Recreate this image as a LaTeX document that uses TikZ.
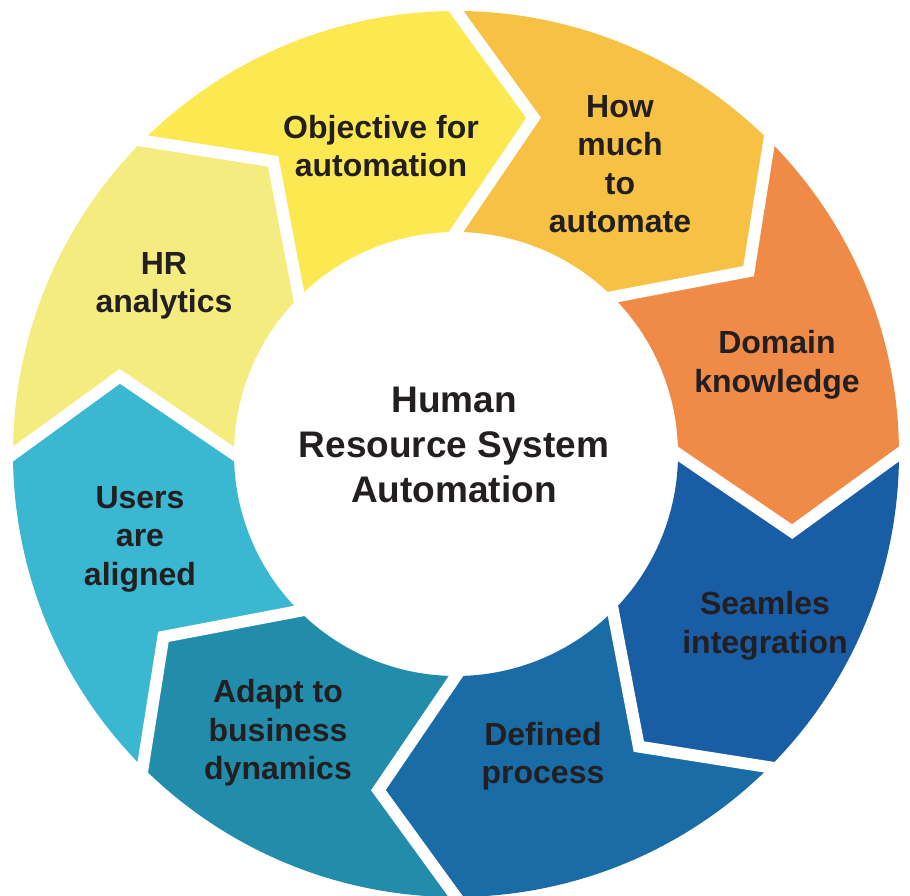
\documentclass[tikz,border=0pt]{standalone}
\usepackage{color}
\usepackage{fontspec}
\setmainfont{Liberation Sans}
\definecolor{objyellow}{HTML}{FCE952}
\definecolor{howgold}{HTML}{F7C244}
\definecolor{domorange}{HTML}{F08A47}
\definecolor{seamblue}{HTML}{195DA5}
\definecolor{defblue}{HTML}{196CA5}
\definecolor{adaptteal}{HTML}{228CAB}
\definecolor{usercyan}{HTML}{3AB7D1}
\definecolor{hryellow}{HTML}{F4EC7E}
\definecolor{textgray}{HTML}{231F20}

\begin{document}
\begin{tikzpicture}[x=1pt,y=1pt,
  seamline/.style={white,line width=12pt,line join=miter,line cap=rect},
  lbl/.style={font=\fontsize{32}{38.5}\selectfont\bfseries,text=textgray,
    align=center,inner sep=0pt},
  hub/.style={font=\fontsize{37}{45}\selectfont\bfseries,text=textgray,
    align=center,inner sep=0pt}]
  \useasboundingbox (-456,-442) rectangle (454,454);

  % ring pieces, clockwise from the top
  \begin{scope}
  \fill[objyellow] (135:443pt) arc[start angle=135,end angle=90,radius=443pt]
    -- (77:345pt) -- (90:222pt) arc[start angle=90,end angle=135,radius=222pt]
    -- (122:345pt) -- cycle;
  \fill[howgold] (90:443pt) arc[start angle=90,end angle=45,radius=443pt]
    -- (32:345pt) -- (45:222pt) arc[start angle=45,end angle=90,radius=222pt]
    -- (77:345pt) -- cycle;
  \fill[domorange] (45:443pt) arc[start angle=45,end angle=0,radius=443pt]
    -- (-13:345pt) -- (0:222pt) arc[start angle=0,end angle=45,radius=222pt]
    -- (32:345pt) -- cycle;
  \fill[seamblue] (0:443pt) arc[start angle=0,end angle=-45,radius=443pt]
    -- (-58:345pt) -- (-45:222pt) arc[start angle=-45,end angle=0,radius=222pt]
    -- (-13:345pt) -- cycle;
  \fill[defblue] (-45:443pt) arc[start angle=-45,end angle=-90,radius=443pt]
    -- (-103:345pt) -- (-90:222pt) arc[start angle=-90,end angle=-45,radius=222pt]
    -- (-58:345pt) -- cycle;
  \fill[adaptteal] (-90:443pt) arc[start angle=-90,end angle=-135,radius=443pt]
    -- (-148:345pt) -- (-135:222pt) arc[start angle=-135,end angle=-90,radius=222pt]
    -- (-103:345pt) -- cycle;
  \fill[usercyan] (225:443pt) arc[start angle=225,end angle=180,radius=443pt]
    -- (167:345pt) -- (180:222pt) arc[start angle=180,end angle=225,radius=222pt]
    -- (212:345pt) -- cycle;
  \fill[hryellow] (180:443pt) arc[start angle=180,end angle=135,radius=443pt]
    -- (122:345pt) -- (135:222pt) arc[start angle=135,end angle=180,radius=222pt]
    -- (167:345pt) -- cycle;
  \end{scope}

  % white cuts between the pieces
  \draw[seamline] (90:443pt) -- (77:345pt) -- (90:222pt);
  \draw[seamline] (45:443pt) -- (32:345pt) -- (45:222pt);
  \draw[seamline] (0:443pt) -- (-13:345pt) -- (0:222pt);
  \draw[seamline] (-45:443pt) -- (-58:345pt) -- (-45:222pt);
  \draw[seamline] (-90:443pt) -- (-103:345pt) -- (-90:222pt);
  \draw[seamline] (-135:443pt) -- (-148:345pt) -- (-135:222pt);
  \draw[seamline] (180:443pt) -- (167:345pt) -- (180:222pt);
  \draw[seamline] (135:443pt) -- (122:345pt) -- (135:222pt);

  \node[hub] (core) at (-2,9) {Human\\Resource System\\Automation};

  \node[lbl] (obj) at (-75,308) {Objective for\\automation};
  \node[lbl] (how) at (164,290) {How\\much\\to\\automate};
  \node[lbl] (dom) at (321,89) {Domain\\knowledge};
  \node[lbl] (seam) at (309,-172) {Seamles\\integration};
  \node[lbl] (def) at (87,-302) {Defined\\process};
  \node[lbl] (adapt) at (-178,-279) {Adapt to\\business\\dynamics};
  \node[lbl] (users) at (-316,-85) {Users\\are\\aligned};
  \node[lbl] (hr) at (-292,168) {HR\\analytics};
\end{tikzpicture}
\end{document}
